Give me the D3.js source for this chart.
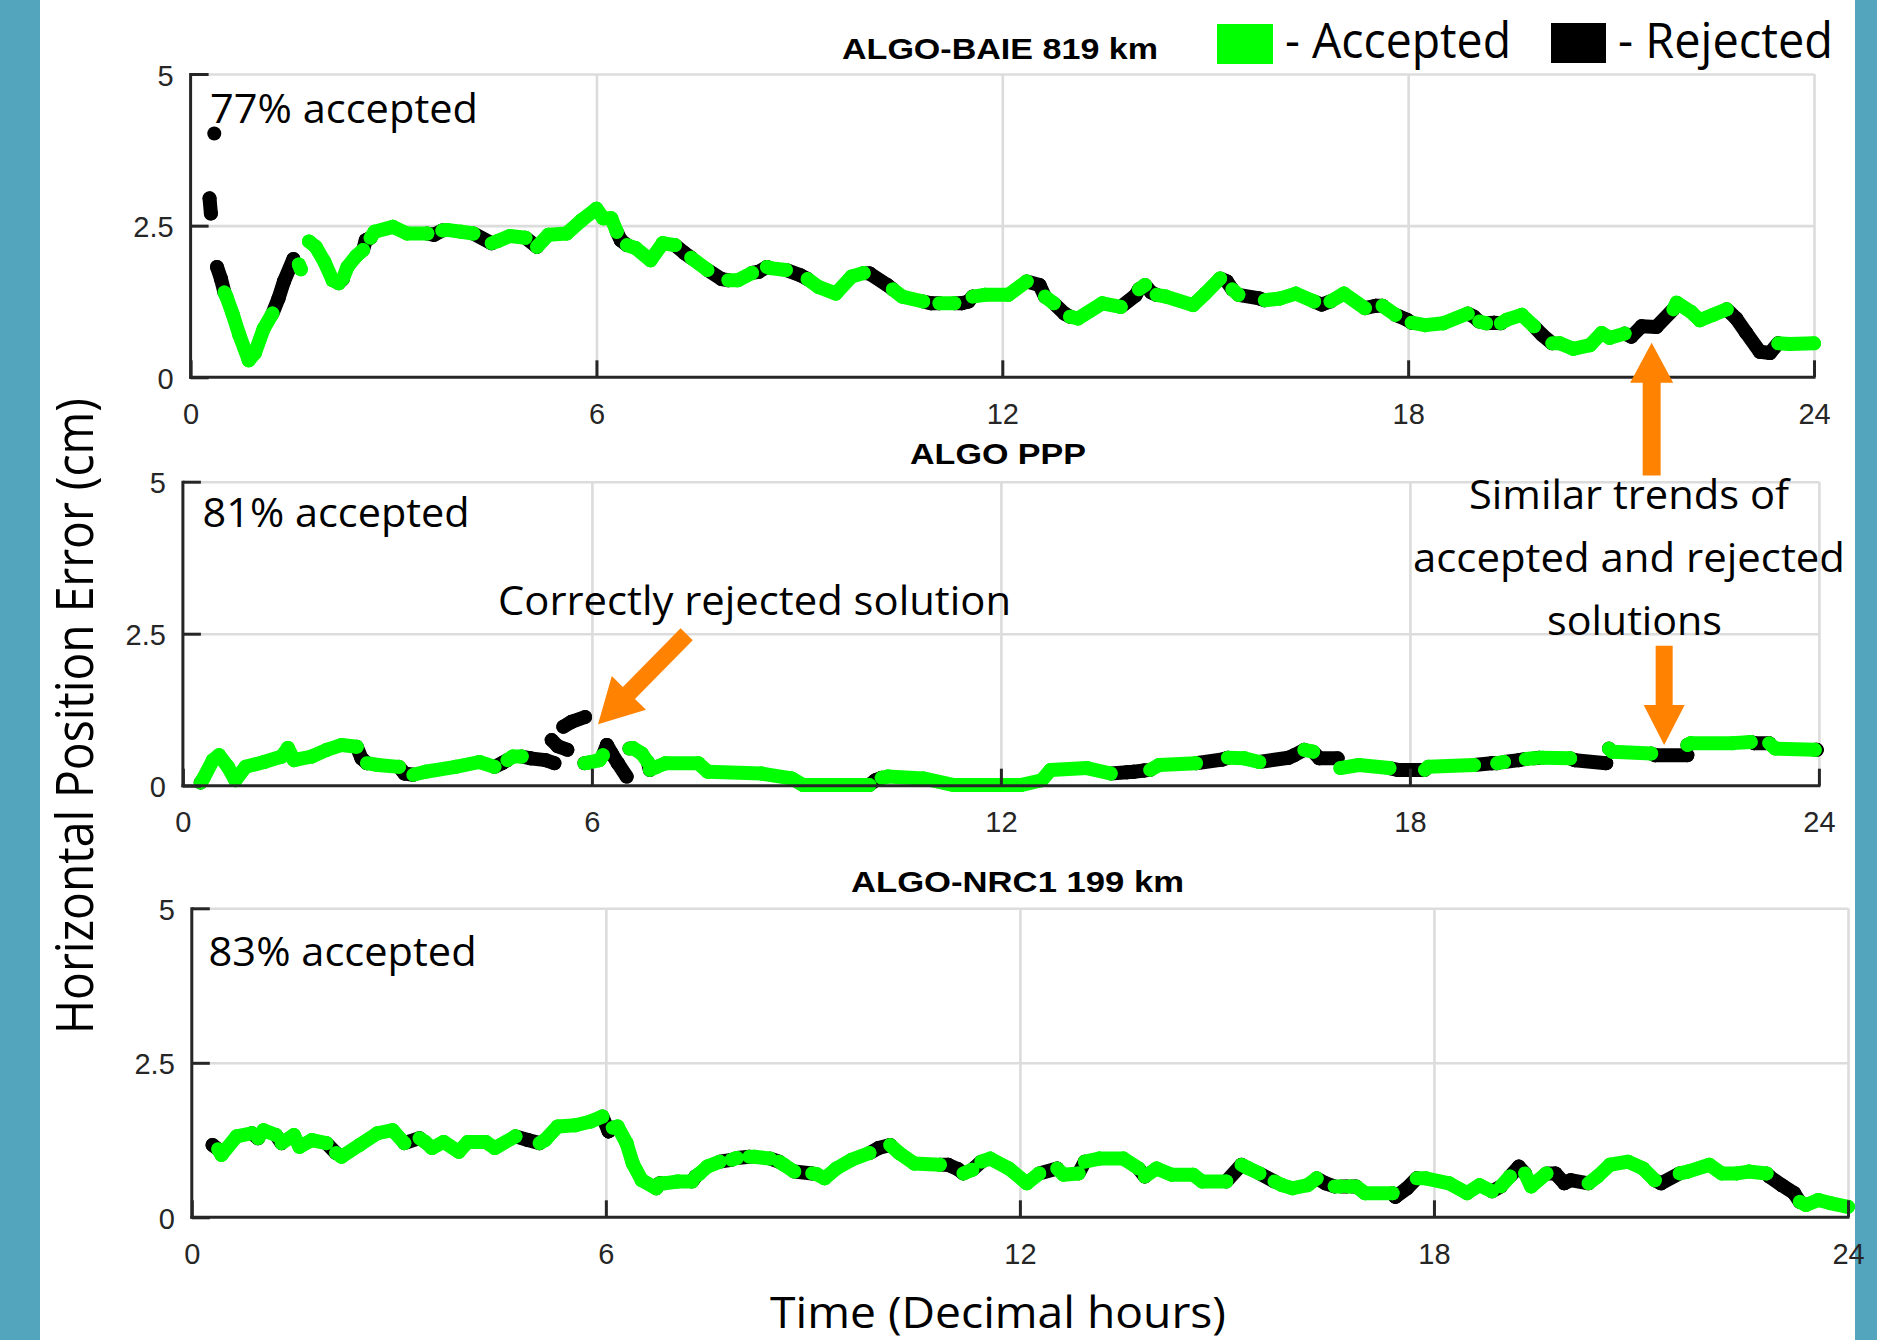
<!DOCTYPE html>
<html><head><meta charset="utf-8">
<script src="https://cdn.jsdelivr.net/npm/d3@7"></script>
<style>html,body{margin:0;padding:0;background:#fff;} svg{display:block}</style>
</head><body><svg id="c" width="1877" height="1340"></svg>
<script>
// ---------------- DATA ----------------
const xTicks = [0, 6, 12, 18, 24];
const yTicks = [0, 2.5, 5];
const titles = ["ALGO-BAIE 819 km", "ALGO PPP", "ALGO-NRC1 199 km"];
const acceptedLabels = ["77% accepted", "81% accepted", "83% accepted"];
const legendLabels = ["- Accepted", "- Rejected"];
const xTitle = "Time (Decimal hours)";
const yTitle = "Horizontal Position Error (cm)";
const notes = ["Correctly rejected solution", "Similar trends of", "accepted and rejected", "solutions"];

// [hour, error cm, rejected(1)/accepted(0)]; null = gap
const baie = [
 [0.35,4.02,1], null,
 [0.28,2.95,1],[0.30,2.70,1], null,
 [0.39,1.82,1],[0.45,1.62,1],[0.50,1.40,1],[0.53,1.33,0],[0.62,1.05,0],[0.72,0.70,0],[0.86,0.28,0],[0.95,0.40,0],
 [1.08,0.80,0],[1.21,1.05,0],[1.30,1.30,1],[1.38,1.58,1],[1.52,1.95,1], null,
 [1.60,1.86,0],[1.63,1.78,0], null,
 [1.75,2.24,0],[1.85,2.15,0],[1.98,1.90,0],[2.10,1.60,0],[2.19,1.55,0],[2.25,1.62,1],[2.32,1.82,0],[2.45,2.00,0],
 [2.55,2.10,0],[2.59,2.26,1],[2.66,2.30,1],[2.72,2.40,0],[2.99,2.48,0],[3.20,2.37,0],[3.50,2.37,0],[3.60,2.35,1],
 [3.72,2.42,1],[3.79,2.43,0],[4.00,2.40,0],[4.18,2.37,0],[4.45,2.21,1],[4.55,2.25,0],[4.72,2.33,0],[4.95,2.30,0],
 [5.12,2.15,1],[5.29,2.35,0],[5.56,2.37,0],[5.78,2.59,0],[6.00,2.78,0],[6.10,2.62,0],[6.22,2.62,0],[6.30,2.40,0],
 [6.36,2.26,1],[6.45,2.18,1],[6.58,2.13,0],[6.80,1.93,0],[6.98,2.21,0],[7.16,2.18,0],[7.30,2.05,1],[7.40,1.97,1],
 [7.64,1.77,0],[7.85,1.62,1],[7.95,1.60,1],[8.09,1.60,0],[8.30,1.72,0],[8.40,1.74,1],[8.52,1.82,1],[8.57,1.80,0],
 [8.80,1.77,0],[9.02,1.68,1],[9.12,1.62,1],[9.28,1.49,0],[9.54,1.38,0],[9.77,1.66,0],[9.95,1.72,0],[10.04,1.71,1],
 [10.30,1.52,1],[10.38,1.45,1],[10.52,1.33,0],[10.83,1.25,0],[10.95,1.22,1],[11.07,1.22,1],[11.29,1.22,0],[11.40,1.22,1],
 [11.50,1.25,1],[11.56,1.33,1],[11.74,1.36,0],[12.09,1.36,0],[12.36,1.58,0],[12.55,1.52,1],[12.63,1.33,1],[12.76,1.22,0],
 [12.92,1.05,1],[13.00,1.00,1],[13.12,0.97,0],[13.48,1.22,0],[13.75,1.16,0],[13.97,1.35,1],[14.02,1.45,1],[14.11,1.52,0],
 [14.20,1.40,1],[14.28,1.36,1],[14.42,1.33,0],[14.82,1.19,0],[15.00,1.38,0],[15.22,1.63,0],[15.32,1.58,1],[15.40,1.45,1],
 [15.49,1.36,0],[15.80,1.30,1],[15.88,1.27,1],[16.11,1.30,0],[16.34,1.38,0],[16.61,1.25,0],[16.72,1.20,1],[16.85,1.25,1],
 [17.05,1.38,0],[17.36,1.14,0],[17.52,1.18,1],[17.62,1.18,1],[17.81,1.03,0],[17.98,0.95,1],[18.05,0.90,1],[18.25,0.86,0],
 [18.52,0.89,0],[18.88,1.05,0],[18.97,1.00,1],[19.05,0.92,1],[19.15,0.89,0],[19.27,0.90,1],[19.37,0.89,1],[19.46,0.95,0],
 [19.68,1.03,0],[19.86,0.84,0],[19.98,0.70,1],[20.13,0.56,1],[20.24,0.56,0],[20.44,0.47,0],[20.69,0.53,0],[20.86,0.73,0],
 [20.98,0.65,0],[21.20,0.72,0],[21.30,0.67,1],[21.45,0.84,1],[21.67,0.83,1],[21.92,1.12,1],[21.97,1.23,0],[22.18,1.08,0],
 [22.31,0.94,0],[22.51,1.03,0],[22.71,1.12,0],[22.85,0.97,1],[23.00,0.73,1],[23.20,0.42,1],[23.35,0.40,1],[23.47,0.56,1],
 [23.64,0.55,0],[24.00,0.56,0]
];
const ppp = [
 [0.26,0.05,1],[0.30,0.12,0],[0.44,0.42,0],[0.53,0.50,0],[0.66,0.31,0],[0.77,0.09,0],[0.92,0.31,0],[1.19,0.39,0],
 [1.45,0.48,0],[1.54,0.62,0],[1.63,0.42,0],[1.89,0.48,0],[2.11,0.59,0],[2.33,0.67,0],[2.55,0.64,0],[2.62,0.45,1],
 [2.70,0.37,1],[2.86,0.34,0],[3.17,0.31,0],[3.25,0.20,1],[3.38,0.18,1],[3.56,0.23,0],[4.00,0.31,0],[4.35,0.39,0],
 [4.57,0.31,0],[4.68,0.37,1],[4.76,0.42,1],[4.84,0.48,0],[4.97,0.48,0],[5.10,0.45,1],[5.32,0.42,1],[5.45,0.37,1], null,
 [5.41,0.75,1],[5.50,0.65,1],[5.64,0.59,1], null,
 [5.58,0.97,1],[5.70,1.05,1],[5.90,1.13,1], null,
 [5.89,0.37,1],[5.95,0.38,0],[6.11,0.42,0],[6.16,0.50,0],[6.22,0.67,1],[6.29,0.53,1],[6.38,0.37,1],[6.51,0.15,1], null,
 [6.55,0.61,1],[6.60,0.62,0],[6.73,0.53,0],[6.82,0.39,0],[6.85,0.26,1],[6.95,0.31,0],[7.08,0.37,0],[7.56,0.37,0],
 [7.70,0.23,0],[8.49,0.20,0],[8.93,0.12,0],[9.10,0.01,0],[10.07,0.01,0],[10.16,0.09,1],[10.25,0.13,1],[10.34,0.15,0],
 [10.86,0.12,0],[11.31,0.01,0],[12.29,0.01,0],[12.60,0.09,0],[12.73,0.26,0],[13.26,0.29,0],[13.61,0.20,0],[13.85,0.22,1],
 [13.95,0.23,1],[14.10,0.25,1],[14.19,0.26,1],[14.32,0.34,0],[14.86,0.37,0],[15.25,0.43,1],[15.33,0.46,1],[15.57,0.45,0],
 [15.79,0.39,0],[16.22,0.46,1],[16.30,0.50,1],[16.45,0.59,1],[16.58,0.56,0],[16.67,0.45,1],[16.94,0.45,1], null,
 [16.98,0.29,0],[17.25,0.34,0],[17.70,0.29,0],[17.82,0.26,1],[18.22,0.26,1],[18.27,0.31,0],[18.94,0.34,0],[19.20,0.37,1],
 [19.28,0.37,1],[19.38,0.39,0],[19.60,0.42,1],[19.70,0.44,1],[19.82,0.45,0],[19.90,0.46,1],[19.95,0.46,0],[20.35,0.45,0],
 [20.42,0.42,1],[20.88,0.37,1], null,
 [20.92,0.61,1],[20.97,0.56,0],[21.54,0.53,0],[21.60,0.50,1],[22.07,0.50,1], null,
 [22.07,0.67,1],[22.12,0.70,0],[22.74,0.70,0],[23.00,0.72,0],[23.05,0.70,1],[23.27,0.70,1],[23.36,0.61,0],[23.94,0.59,0],
 [23.97,0.59,1]
];
const nrc1 = [
 [0.30,1.17,1],[0.38,1.10,1],[0.43,1.01,0],[0.65,1.31,0],[0.87,1.36,0],[0.96,1.28,1],[1.04,1.41,0],[1.22,1.33,0],
 [1.30,1.20,1],[1.48,1.33,0],[1.56,1.14,0],[1.74,1.25,0],[1.95,1.20,0],[2.09,1.04,1],[2.17,0.98,0],[2.43,1.17,0],
 [2.69,1.36,0],[2.91,1.41,0],[3.08,1.20,0],[3.30,1.28,1],[3.38,1.22,0],[3.48,1.12,0],[3.65,1.22,0],[3.87,1.06,0],
 [4.00,1.22,0],[4.26,1.22,0],[4.39,1.12,0],[4.69,1.31,0],[4.87,1.25,1],[5.04,1.20,1],[5.12,1.25,0],[5.30,1.47,0],
 [5.56,1.49,0],[5.78,1.55,0],[5.95,1.63,0],[6.04,1.39,1],[6.10,1.45,1],[6.17,1.47,0],[6.30,1.20,0],[6.39,0.87,0],
 [6.52,0.60,0],[6.73,0.47,0],[6.78,0.55,1],[6.85,0.55,0],[7.04,0.58,0],[7.25,0.58,0],[7.30,0.66,1],[7.35,0.70,0],
 [7.47,0.82,0],[7.65,0.90,0],[7.82,0.93,1],[7.90,0.96,0],[8.08,0.98,1],[8.15,0.98,0],[8.38,0.95,0],[8.51,0.90,1],
 [8.58,0.85,0],[8.73,0.74,0],[8.99,0.71,1],[9.05,0.70,0],[9.17,0.63,0],[9.34,0.79,0],[9.56,0.93,0],[9.82,1.04,0],
 [9.95,1.12,1],[10.12,1.17,1],[10.25,1.04,0],[10.47,0.87,0],[10.84,0.85,0],[10.96,0.85,1],[11.10,0.78,1],[11.18,0.71,1],
 [11.31,0.77,0],[11.44,0.90,1],[11.57,0.95,0],[11.84,0.79,0],[12.10,0.55,0],[12.28,0.71,0],[12.54,0.79,1],[12.63,0.69,0],
 [12.85,0.71,0],[12.94,0.90,1],[13.15,0.95,0],[13.50,0.95,0],[13.72,0.79,0],[13.81,0.66,1],[13.98,0.79,0],[14.20,0.69,0],
 [14.51,0.69,0],[14.64,0.58,0],[14.99,0.58,0],[15.21,0.85,1],[15.30,0.80,0],[15.47,0.71,0],[15.69,0.58,1],[15.80,0.52,0],
 [15.95,0.47,0],[16.17,0.52,0],[16.30,0.63,0],[16.43,0.55,1],[16.56,0.50,1],[16.65,0.50,0],[16.74,0.50,1],[16.80,0.50,0],
 [16.87,0.50,1],[17.00,0.39,0],[17.40,0.39,0],[17.44,0.33,1],[17.61,0.47,1],[17.75,0.63,1],[17.88,0.63,0],[18.22,0.55,0],
 [18.48,0.39,0],[18.66,0.52,0],[18.84,0.42,0],[18.97,0.50,1],[19.10,0.66,0],[19.23,0.82,1],[19.32,0.71,1],[19.41,0.50,0],
 [19.63,0.71,0],[19.76,0.71,1],[19.89,0.55,1],[19.98,0.60,1],[20.24,0.55,1],[20.37,0.66,0],[20.55,0.85,0],[20.81,0.90,0],
 [21.03,0.79,0],[21.20,0.60,0],[21.29,0.55,1],[21.56,0.71,1],[21.68,0.74,0],[21.99,0.85,0],[22.17,0.71,0],[22.39,0.71,0],
 [22.56,0.74,0],[22.82,0.71,0],[22.86,0.66,1],[23.04,0.52,1],[23.22,0.39,1],[23.30,0.25,1],[23.39,0.20,0],[23.57,0.28,0],
 [23.74,0.23,0],[24.00,0.17,0]
];
const series = [baie, ppp, nrc1];

// ---------------- LAYOUT ----------------
const W = 1877, H = 1340;
const GREEN = "#00ff00", BLACK = "#000000", ORANGE = "#ff8300", BLUE = "#52a5bd";
const AXC = "#262626", GRID = "#dcdcdc";
const SANS = "'Open Sans', 'Noto Sans', sans-serif";
const ARIAL = "'Liberation Sans', Arial, sans-serif";
const layout = [
  {l:190.6, r:1814,   t:74,    b:377.3,  tx:1000,   ty:59.3,  tw:316, px:210,   py:123, pw:268},
  {l:182.9, r:1818.9, t:481.7, b:785.7,  tx:998,    ty:464,   tw:176, px:202.6, py:527, pw:267},
  {l:191.8, r:1848,   t:908.3, b:1217.3, tx:1017.5, ty:891.7, tw:333, px:208.6, py:966, pw:268}
];
const TRACE_W = 14, DOT_R = 7;

const svg = d3.select("#c");
svg.append("rect").attr("width", W).attr("height", H).attr("fill", "#fff");
svg.append("rect").attr("x", 0).attr("y", 0).attr("width", 40).attr("height", H).attr("fill", BLUE);
svg.append("rect").attr("x", 1855).attr("y", 0).attr("width", W - 1855).attr("height", H).attr("fill", BLUE);

function txt(g, s, x, y, o) {
  const t = g.append("text").attr("x", x).attr("y", y).text(s)
    .attr("font-family", o.family || SANS).attr("font-size", o.size)
    .attr("fill", o.fill || "#000").attr("text-anchor", o.anchor || "start");
  if (o.weight) t.attr("font-weight", o.weight);
  if (o.len) t.attr("textLength", o.len).attr("lengthAdjust", "spacingAndGlyphs");
  if (o.transform) t.attr("transform", o.transform);
  return t;
}

const scales = [];
layout.forEach((L, i) => {
  const x = d3.scaleLinear().domain([0, 24]).range([L.l, L.r]);
  const y = d3.scaleLinear().domain([0, 5]).range([L.b, L.t]);
  scales.push({x, y});
  const g = svg.append("g");

  // grid
  const gy = g.append("g").attr("transform", `translate(${L.l},0)`)
    .call(d3.axisLeft(y).tickValues([2.5, 5]).tickSize(-(L.r - L.l)).tickFormat(""));
  const gx = g.append("g").attr("transform", `translate(0,${L.t})`)
    .call(d3.axisBottom(x).tickValues([6, 12, 18, 24]).tickSize(L.b - L.t).tickFormat(""));
  [gy, gx].forEach(a => {
    a.select(".domain").remove();
    a.selectAll(".tick line").attr("stroke", GRID).attr("stroke-width", 2.6);
  });

  // data: rejected layer below, accepted layer on top
  const pts = series[i];
  const layers = [1, 0].map(() => g.append("g").attr("stroke-linecap", "round").attr("stroke-linejoin", "round"));
  for (let k = 0; k < pts.length; k++) {
    const p = pts[k];
    if (!p) continue;
    const c = p[2] ? BLACK : GREEN;
    const lg = p[2] ? layers[0] : layers[1];
    const prev = pts[k - 1];
    if (prev) {
      lg.append("line").attr("x1", x(prev[0])).attr("y1", y(prev[1]))
        .attr("x2", x(p[0])).attr("y2", y(p[1]))
        .attr("stroke", c).attr("stroke-width", TRACE_W);
    }
    lg.append("circle").attr("cx", x(p[0])).attr("cy", y(p[1])).attr("r", DOT_R).attr("fill", c);
  }

  // axes (ticks + labels)
  const ay = g.append("g").attr("transform", `translate(${L.l},0)`)
    .call(d3.axisLeft(y).tickValues(yTicks).tickSize(-18).tickPadding(17).tickFormat(d => d));
  const ax = g.append("g").attr("transform", `translate(0,${L.b})`)
    .call(d3.axisBottom(x).tickValues(xTicks).tickSize(-17).tickPadding(26).tickFormat(d => d));
  [ay, ax].forEach(a => {
    a.select(".domain").remove();
    a.selectAll(".tick line").attr("stroke", AXC).attr("stroke-width", 3);
    a.selectAll(".tick text").attr("fill", AXC).attr("font-family", ARIAL).attr("font-size", 29);
  });
  ay.selectAll(".tick text").attr("dy", "0.38em");
  g.append("line").attr("x1", L.l).attr("x2", L.l).attr("y1", L.t - 1).attr("y2", L.b + 1.5)
    .attr("stroke", AXC).attr("stroke-width", 3);
  g.append("line").attr("x1", L.l - 1.5).attr("x2", L.r + 1.5).attr("y1", L.b).attr("y2", L.b)
    .attr("stroke", AXC).attr("stroke-width", 3);

  // title and accepted %
  txt(g, titles[i], L.tx, L.ty, {family: ARIAL, size: 30, weight: "bold", anchor: "middle", len: L.tw});
  txt(g, acceptedLabels[i], L.px, L.py, {size: 41, len: L.pw});
});

// legend
svg.append("rect").attr("x", 1217).attr("y", 24).attr("width", 56).attr("height", 40).attr("fill", GREEN);
svg.append("rect").attr("x", 1551).attr("y", 23).attr("width", 55).attr("height", 40).attr("fill", BLACK);
txt(svg, legendLabels[0], 1285, 58, {size: 49, len: 226});
txt(svg, legendLabels[1], 1618, 58, {size: 49, len: 215});

// axis titles
txt(svg, xTitle, 998, 1328, {size: 44, anchor: "middle", len: 456});
txt(svg, yTitle, 0, 0, {size: 51, anchor: "middle", len: 636, transform: "translate(93,716) rotate(-90)"});

// annotations
txt(svg, notes[0], 498, 615, {size: 41, len: 513});
txt(svg, notes[1], 1629, 509, {size: 41, anchor: "middle", len: 320});
txt(svg, notes[2], 1629, 572, {size: 41, anchor: "middle", len: 432});
txt(svg, notes[3], 1634.5, 635, {size: 41, anchor: "middle", len: 175});

// arrows (data coordinates of their panels)
function arrow(sx, sy, ex, ey, shaft, headW, headL) {
  const dx = ex - sx, dy = ey - sy, len = Math.hypot(dx, dy);
  const ux = dx / len, uy = dy / len, nx = -uy, ny = ux;
  const bx = ex - ux * headL, by = ey - uy * headL;
  const h = shaft / 2, hw = headW / 2;
  const P = [
    [sx + nx * h, sy + ny * h], [bx + nx * h, by + ny * h], [bx + nx * hw, by + ny * hw],
    [ex, ey], [bx - nx * hw, by - ny * hw], [bx - nx * h, by - ny * h], [sx - nx * h, sy - ny * h]
  ];
  svg.append("polygon").attr("points", P.map(p => p.join(",")).join(" ")).attr("fill", ORANGE);
}
const s1 = scales[0], s2 = scales[1];
arrow(s1.x(21.6), s1.y(-1.62), s1.x(21.6), s1.y(0.57), 18, 43, 40);
arrow(s2.x(21.73), s2.y(2.30), s2.x(21.73), s2.y(0.67), 17, 41, 40);
arrow(s2.x(7.39), s2.y(2.49), s2.x(6.09), s2.y(1.01), 17, 48, 44);
</script>
</body></html>
